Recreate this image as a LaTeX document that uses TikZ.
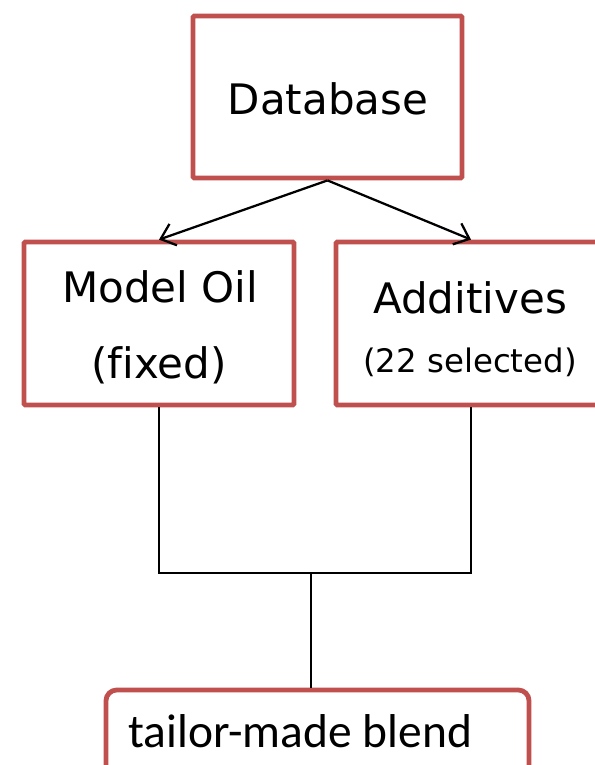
\documentclass[tikz,border=0pt]{standalone}
\usepackage{fontspec}
\setmainfont[Ligatures=NoCommon]{DejaVu Sans}
\newfontfamily\blendfont{Carlito}
\usetikzlibrary{arrows.meta}
\definecolor{boxred}{RGB}{192,80,77}
\tikzset{
  box/.style={draw=boxred, line width=3.6pt, rounded corners=1pt, inner sep=0pt},
  label/.style={inner sep=0pt, anchor=base, font=\fontsize{31.5}{36}\selectfont},
  small/.style={inner sep=0pt, anchor=base, font=\fontsize{24.3}{28}\selectfont},
  link/.style={line width=1.2pt, black},
  feed/.style={line width=1.7pt, black, -{Straight Barb[length=10pt,width=17pt,line width=1.7pt]}}
}
\begin{document}
\begin{tikzpicture}[x=0.75pt, y=-0.75pt]
  \useasboundingbox (0,0) rectangle (594,765);
  % boxes
  \node[box, minimum width=201.75pt, minimum height=121.5pt] (db) at (327.5,97) {};
  \node[box, minimum width=202.5pt, minimum height=122.25pt] (model) at (159,323.5) {};
  \node[box, minimum width=202.5pt, minimum height=122.25pt] (add) at (471,323.5) {};
  \node[box, rounded corners=8pt, minimum width=317.25pt, minimum height=75pt] (blend) at (317.5,740) {};
  % texts
  \node[label] (dbtxt) at (328,114) {Database};
  \node[label] (modeltxt) at (160,302) {Model Oil};
  \node[label] (fixedtxt) at (159,378) {(fixed)};
  \node[label] (addtxt) at (470,313) {Additives};
  \node[small] (seltxt) at (470,372) {(22 selected)};
  \node[inner sep=0pt, anchor=base west, font=\blendfont\fontsize{35.6}{40}\selectfont] (blendtxt) at (128,747) {tailor-made blend};
  % arrows from the database
  \draw[feed] (db.south) -- (model.north);
  \draw[feed] (db.south) -- (add.north);
  % joining lines
  \coordinate (j) at (311,573);
  \draw[link] (model.south) |- (j) -| (add.south);
  \draw[link] (j) -- (j |- blend.north);
\end{tikzpicture}
\end{document}
